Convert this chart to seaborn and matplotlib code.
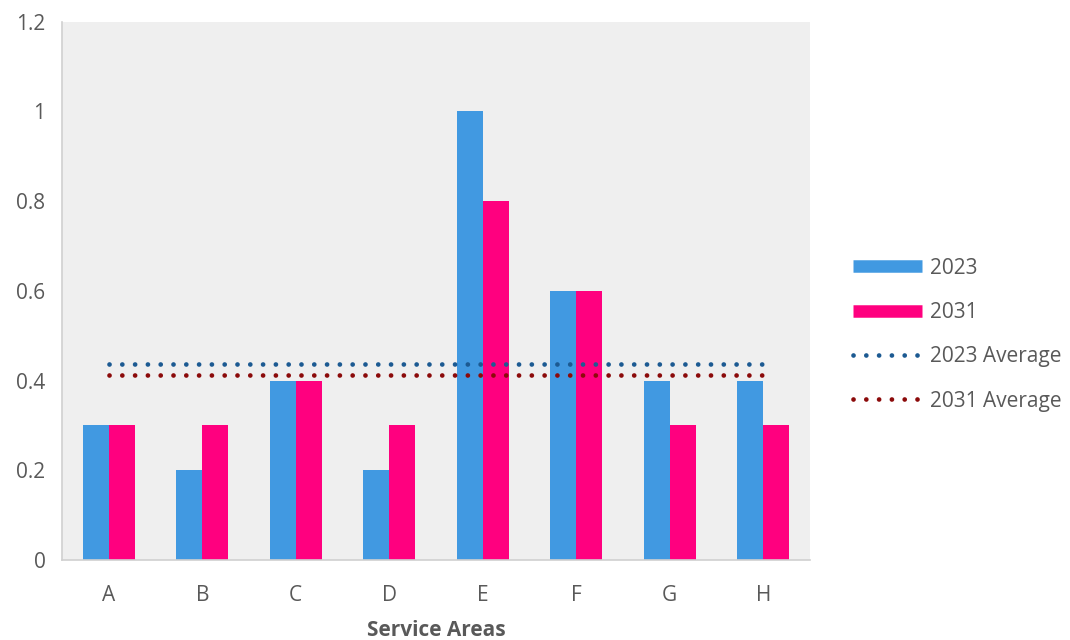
import numpy as np
import pandas as pd
import matplotlib
matplotlib.use('Agg')
import matplotlib.pyplot as plt
import seaborn as sns
from matplotlib.lines import Line2D

# data
areas = ['A', 'B', 'C', 'D', 'E', 'F', 'G', 'H']
vals_2023 = [0.3, 0.2, 0.4, 0.2, 1.0, 0.6, 0.4, 0.4]
vals_2031 = [0.3, 0.3, 0.4, 0.3, 0.8, 0.6, 0.3, 0.3]
series = ['2023', '2031']
y_ticks = [0, 0.2, 0.4, 0.6, 0.8, 1.0, 1.2]
y_labels = ['0', '0.2', '0.4', '0.6', '0.8', '1', '1.2']

bar_colors = {'2023': '#4199e1', '2031': '#ff007f'}
avg_colors = {'2023': '#1c5a92', '2031': '#8b0a0a'}
text_col = '#595959'
grid_col = '#d0d0d0'
dot_style = (0, (0.01, 2.7))

df = pd.DataFrame({
    'area': areas * 2,
    'value': vals_2023 + vals_2031,
    'year': ['2023'] * len(areas) + ['2031'] * len(areas),
})
avg = {'2023': np.mean(vals_2023), '2031': np.mean(vals_2031)}

sns.set_style('white')
plt.rcParams['font.family'] = ['Open Sans', 'DejaVu Sans']

fig = plt.figure(figsize=(10.7, 6.4), dpi=100)
ax = fig.add_axes([0.058, 0.125, 0.699, 0.841])
ax.set_facecolor('#efefef')

sns.barplot(data=df, x='area', y='value', hue='year', hue_order=series,
            palette=bar_colors, width=0.56, dodge=True, saturation=1,
            ax=ax, legend=False, edgecolor='none')

xs = np.arange(len(areas))
for s in series:
    ax.plot(xs, [avg[s]] * len(areas), color=avg_colors[s], lw=3.4,
            linestyle=dot_style, dash_capstyle='round', zorder=5)

ax.set_xlim(-0.5, len(areas) - 0.5)
ax.set_ylim(0, 1.2)
ax.set_yticks(y_ticks)
ax.set_yticklabels(y_labels)
ax.set_xticks(xs)
ax.set_xticklabels(areas)
ax.set_xticks(np.arange(-0.5, len(areas)), minor=True)
ax.tick_params(axis='x', which='major', length=0, pad=18, labelsize=15, labelcolor=text_col)
ax.tick_params(axis='x', which='minor', length=6, width=1.2, color=grid_col, direction='out')
ax.tick_params(axis='y', length=6, width=1.2, color=grid_col, direction='out', pad=6,
               labelsize=15, labelcolor=text_col)

for side in ['top', 'right']:
    ax.spines[side].set_visible(False)
for side in ['left', 'bottom']:
    ax.spines[side].set_color(grid_col)
    ax.spines[side].set_linewidth(1.2)

ax.set_ylabel('')
ax.set_xlabel('Service Areas', fontsize=15, fontweight='bold', color=text_col, labelpad=10)

handles = [
    Line2D([0], [0], color=bar_colors['2023'], lw=9, solid_capstyle='butt'),
    Line2D([0], [0], color=bar_colors['2031'], lw=9, solid_capstyle='butt'),
    Line2D([0], [0], color=avg_colors['2023'], lw=3.4, linestyle=dot_style, dash_capstyle='round'),
    Line2D([0], [0], color=avg_colors['2031'], lw=3.4, linestyle=dot_style, dash_capstyle='round'),
]
labels = ['2023', '2031', '2023 Average', '2031 Average']
leg = fig.legend(handles, labels, loc='center left', bbox_to_anchor=(0.78, 0.477),
                 frameon=False, fontsize=15, handlelength=3.3, labelspacing=1.12,
                 handletextpad=0.4)
for t in leg.get_texts():
    t.set_color(text_col)

fig.savefig('out.png', dpi=100)
